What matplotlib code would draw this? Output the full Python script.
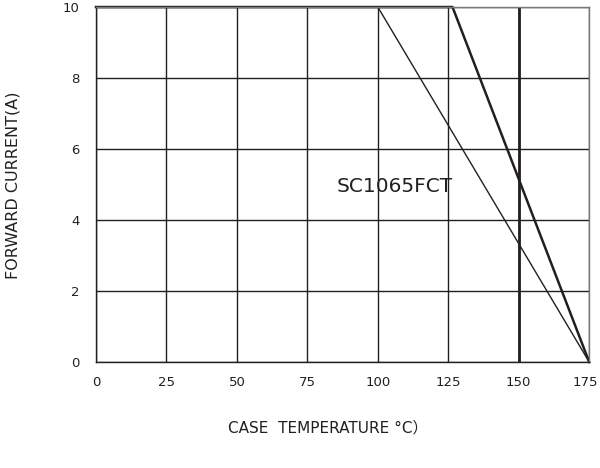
import matplotlib
matplotlib.use("Agg")
import matplotlib.pyplot as plt
from matplotlib.transforms import ScaledTranslation

x_ticks = [0, 25, 50, 75, 100, 125, 150, 175]
y_ticks = [0, 2, 4, 6, 8, 10]
thin_x = [100, 175]
thin_y = [10, 0]
thick_x = [0, 126.5, 175]
thick_y = [10, 10, 0]
vline_x = 150
label_text = "SC1065FCT"

col = "#231f20"
fig = plt.figure(figsize=(6, 4.68), dpi=100)
ax = fig.add_axes([0.16, 0.2265, 0.822, 0.7585])
ax.set_xlim(0, 175)
ax.set_ylim(0, 10)
ax.set_xticks(x_ticks)
ax.set_yticks(y_ticks)
ax.grid(True, color=col, linewidth=1.0)
ax.set_axisbelow(True)
ax.tick_params(length=0, labelsize=9.5, colors=col)
ax.tick_params(axis="x", pad=10)
ax.tick_params(axis="y", pad=12)
for s in ["left", "bottom"]:
    ax.spines[s].set_color(col)
    ax.spines[s].set_linewidth(1.0)
for s in ["top", "right"]:
    ax.spines[s].set_color("#777777")
    ax.spines[s].set_linewidth(1.0)

fig.canvas.draw()
last = ax.get_xticklabels()[-1]
last.set_transform(last.get_transform() + ScaledTranslation(-3 / 72, 0, fig.dpi_scale_trans))

ax.plot(thin_x, thin_y, color=col, linewidth=1.0, clip_on=False)
ax.plot(thick_x, thick_y, color=col, linewidth=1.8, clip_on=False)
ax.axvline(vline_x, color=col, linewidth=2.0)

ax.text(106, 4.95, label_text, fontsize=14.5, color=col, ha="center", va="center")
fig.text(328 / 600, 1 - 428 / 468, "CASE  TEMPERATURE °C）", fontsize=11, color=col,
         ha="center", va="center", family=["DejaVu Sans", "Noto Sans CJK SC"])
fig.text(13 / 600, 1 - 185 / 468, "FORWARD CURRENT(A)", fontsize=11.5, color=col,
         ha="center", va="center", rotation=90)
fig.savefig("out.png", dpi=100)
